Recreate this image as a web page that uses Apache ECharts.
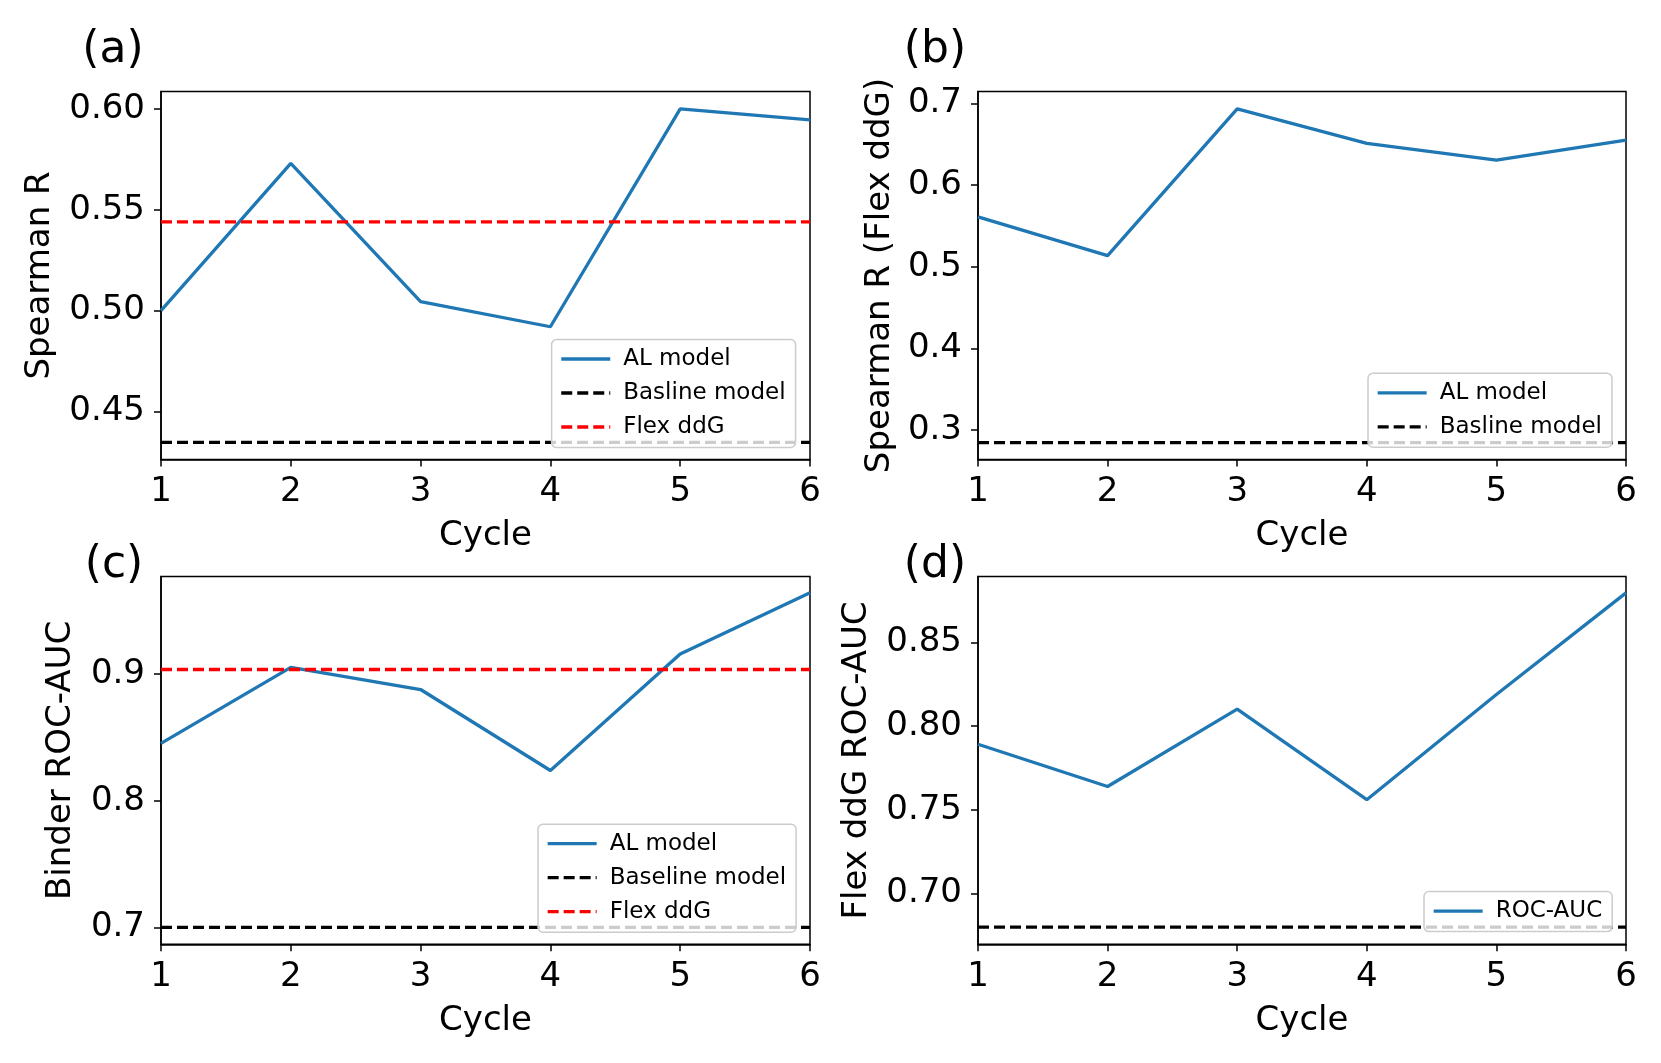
<!DOCTYPE html>
<html>
<head>
<meta charset="utf-8">
<script src="https://cdn.jsdelivr.net/npm/echarts@6/dist/echarts.min.js"></script>
<style>html,body{margin:0;padding:0;background:#fff;}#c{width:1661px;height:1063px;}</style>
</head>
<body>
<div id="c"></div>
<script>
// ---- data ----
var cycles = [1, 2, 3, 4, 5, 6];
var alA = [0.500, 0.573, 0.5045, 0.492, 0.600, 0.5945];
var baseA = 0.4347;
var flexA = 0.544;
var alB = [0.561, 0.5135, 0.6934, 0.651, 0.6305, 0.655];
var baseB = 0.2846;
var alC = [0.8454, 0.9054, 0.8879, 0.8239, 0.9159, 0.9643];
var baseC = 0.700;
var flexC = 0.9037;
var alD = [0.7892, 0.764, 0.8102, 0.7561, 0.819, 0.8797];
var baseD = 0.680;
var yTicksA = [0.45, 0.50, 0.55, 0.60];
var yTicksB = [0.3, 0.4, 0.5, 0.6, 0.7];
var yTicksC = [0.7, 0.8, 0.9];
var yTicksD = [0.70, 0.75, 0.80, 0.85];
var xTicks = [1, 2, 3, 4, 5, 6];
var panelLabels = ['(a)', '(b)', '(c)', '(d)'];
var yTitles = ['Spearman R', 'Spearman R (Flex ddG)', 'Binder ROC-AUC', 'Flex ddG ROC-AUC'];
var xTitle = 'Cycle';

// ---- layout / style ----
var FONT = 'DejaVu Sans';
var BLUE = '#1f77b4', RED = '#ff0000', BLACK = '#000000';
var DASH = [11, 5];
var LW = 3.3;
var grids = [
  {left: 161, top: 91.5, width: 649, height: 368},
  {left: 978, top: 91.5, width: 648, height: 368},
  {left: 161, top: 576.6, width: 649, height: 367.7},
  {left: 978, top: 576.6, width: 648, height: 367.7}
];
var yRanges = [[0.4262, 0.6086], [0.2639, 0.7146], [0.6866, 0.9771], [0.6697, 0.8894]];
var yTickSets = [yTicksA, yTicksB, yTicksC, yTicksD];
var yDecimals = [2, 1, 1, 2];
var yNameGaps = [104, 81, 83, 104];
var labelPos = [[113, 51], [935, 51], [114, 566], [935, 566]];

function pairs(xs, ys) { return xs.map(function (x, i) { return [x, ys[i]]; }); }
function hline(v) { return [[cycles[0], v], [cycles[cycles.length - 1], v]]; }

var option = {
  animation: false,
  backgroundColor: '#fff',
  textStyle: {fontFamily: FONT},
  grid: grids.map(function (g) {
    return {left: g.left, top: g.top, width: g.width, height: g.height, show: true,
      borderColor: BLACK, borderWidth: 1.5, backgroundColor: 'transparent', containLabel: false};
  }),
  xAxis: grids.map(function (g, i) {
    return {
      type: 'value', gridIndex: i, min: 1, max: 6, interval: 1,
      name: xTitle, nameLocation: 'middle', nameGap: 60,
      nameTextStyle: {fontFamily: FONT, fontSize: 34, color: BLACK},
      axisLine: {show: true, onZero: false, lineStyle: {color: BLACK, width: 1.5}},
      axisTick: {show: true, inside: false, length: 7, lineStyle: {color: BLACK, width: 1.5}},
      axisLabel: {show: true, margin: 16, fontFamily: FONT, fontSize: 34, color: BLACK,
        formatter: function (v) { return String(v); }},
      splitLine: {show: false}
    };
  }),
  yAxis: grids.map(function (g, i) {
    return {
      type: 'value', gridIndex: i, min: yRanges[i][0], max: yRanges[i][1],
      name: yTitles[i], nameLocation: 'middle', nameGap: yNameGaps[i], nameRotate: 90,
      nameTextStyle: {fontFamily: FONT, fontSize: 34, color: BLACK},
      axisLine: {show: true, onZero: false, lineStyle: {color: BLACK, width: 1.5}},
      axisTick: {show: true, inside: false, length: 7, customValues: yTickSets[i],
        lineStyle: {color: BLACK, width: 1.5}},
      axisLabel: {show: true, margin: 16, fontFamily: FONT, fontSize: 34, color: BLACK,
        customValues: yTickSets[i],
        formatter: (function (d) { return function (v) { return Number(v).toFixed(d); }; })(yDecimals[i])},
      splitLine: {show: false}
    };
  }),
  legend: [
    {left: 551.6, top: 339.5, data: ['AL model', 'Basline model', 'Flex ddG']},
    {left: 1368, top: 373.3, data: ['AL model', 'Basline model']},
    {left: 538, top: 824.2, data: ['AL model', 'Baseline model', 'Flex ddG']},
    {left: 1424, top: 891.6, data: ['ROC-AUC']}
  ].map(function (l) {
    return {
      left: l.left, top: l.top, orient: 'vertical', align: 'left', data: l.data, selectedMode: false,
      itemWidth: 49, itemHeight: 14, itemGap: 11,
      itemStyle: {opacity: 0, borderWidth: 0},
      lineStyle: {width: LW},
      padding: [8, 10, 9, 8], backgroundColor: 'rgba(255,255,255,0.8)',
      borderColor: '#cccccc', borderWidth: 1.5, borderRadius: 5,
      textStyle: {fontFamily: FONT, fontSize: 23, color: BLACK, lineHeight: 23, padding: [0, 0, 0, 8]}
    };
  }),
  series: [
    {name: 'AL model', type: 'line', xAxisIndex: 0, yAxisIndex: 0, data: pairs(cycles, alA),
      symbol: 'none', lineStyle: {color: BLUE, width: LW}, itemStyle: {color: BLUE}},
    {name: 'Basline model', type: 'line', xAxisIndex: 0, yAxisIndex: 0, data: hline(baseA),
      symbol: 'none', lineStyle: {color: BLACK, width: LW, type: DASH}, itemStyle: {color: BLACK}},
    {name: 'Flex ddG', type: 'line', xAxisIndex: 0, yAxisIndex: 0, data: hline(flexA),
      symbol: 'none', lineStyle: {color: RED, width: LW, type: DASH}, itemStyle: {color: RED}},
    {name: 'AL model', type: 'line', xAxisIndex: 1, yAxisIndex: 1, data: pairs(cycles, alB),
      symbol: 'none', lineStyle: {color: BLUE, width: LW}, itemStyle: {color: BLUE}},
    {name: 'Basline model', type: 'line', xAxisIndex: 1, yAxisIndex: 1, data: hline(baseB),
      symbol: 'none', lineStyle: {color: BLACK, width: LW, type: DASH}, itemStyle: {color: BLACK}},
    {name: 'AL model', type: 'line', xAxisIndex: 2, yAxisIndex: 2, data: pairs(cycles, alC),
      symbol: 'none', lineStyle: {color: BLUE, width: LW}, itemStyle: {color: BLUE}},
    {name: 'Baseline model', type: 'line', xAxisIndex: 2, yAxisIndex: 2, data: hline(baseC),
      symbol: 'none', lineStyle: {color: BLACK, width: LW, type: DASH}, itemStyle: {color: BLACK}},
    {name: 'Flex ddG', type: 'line', xAxisIndex: 2, yAxisIndex: 2, data: hline(flexC),
      symbol: 'none', lineStyle: {color: RED, width: LW, type: DASH}, itemStyle: {color: RED}},
    {name: 'ROC-AUC', type: 'line', xAxisIndex: 3, yAxisIndex: 3, data: pairs(cycles, alD),
      symbol: 'none', lineStyle: {color: BLUE, width: LW}, itemStyle: {color: BLUE}},
    {name: 'Baseline (d)', type: 'line', xAxisIndex: 3, yAxisIndex: 3, data: hline(baseD),
      symbol: 'none', lineStyle: {color: BLACK, width: LW, type: DASH}, itemStyle: {color: BLACK}}
  ],
  graphic: panelLabels.map(function (t, i) {
    return {type: 'text', x: labelPos[i][0], y: labelPos[i][1],
      style: {text: t, fontFamily: FONT, fontSize: 44, fill: BLACK, align: 'center', verticalAlign: 'middle'}};
  })
};

var chart = echarts.init(document.getElementById('c'), null, {renderer: 'canvas'});
chart.setOption(option);
</script>
</body>
</html>
